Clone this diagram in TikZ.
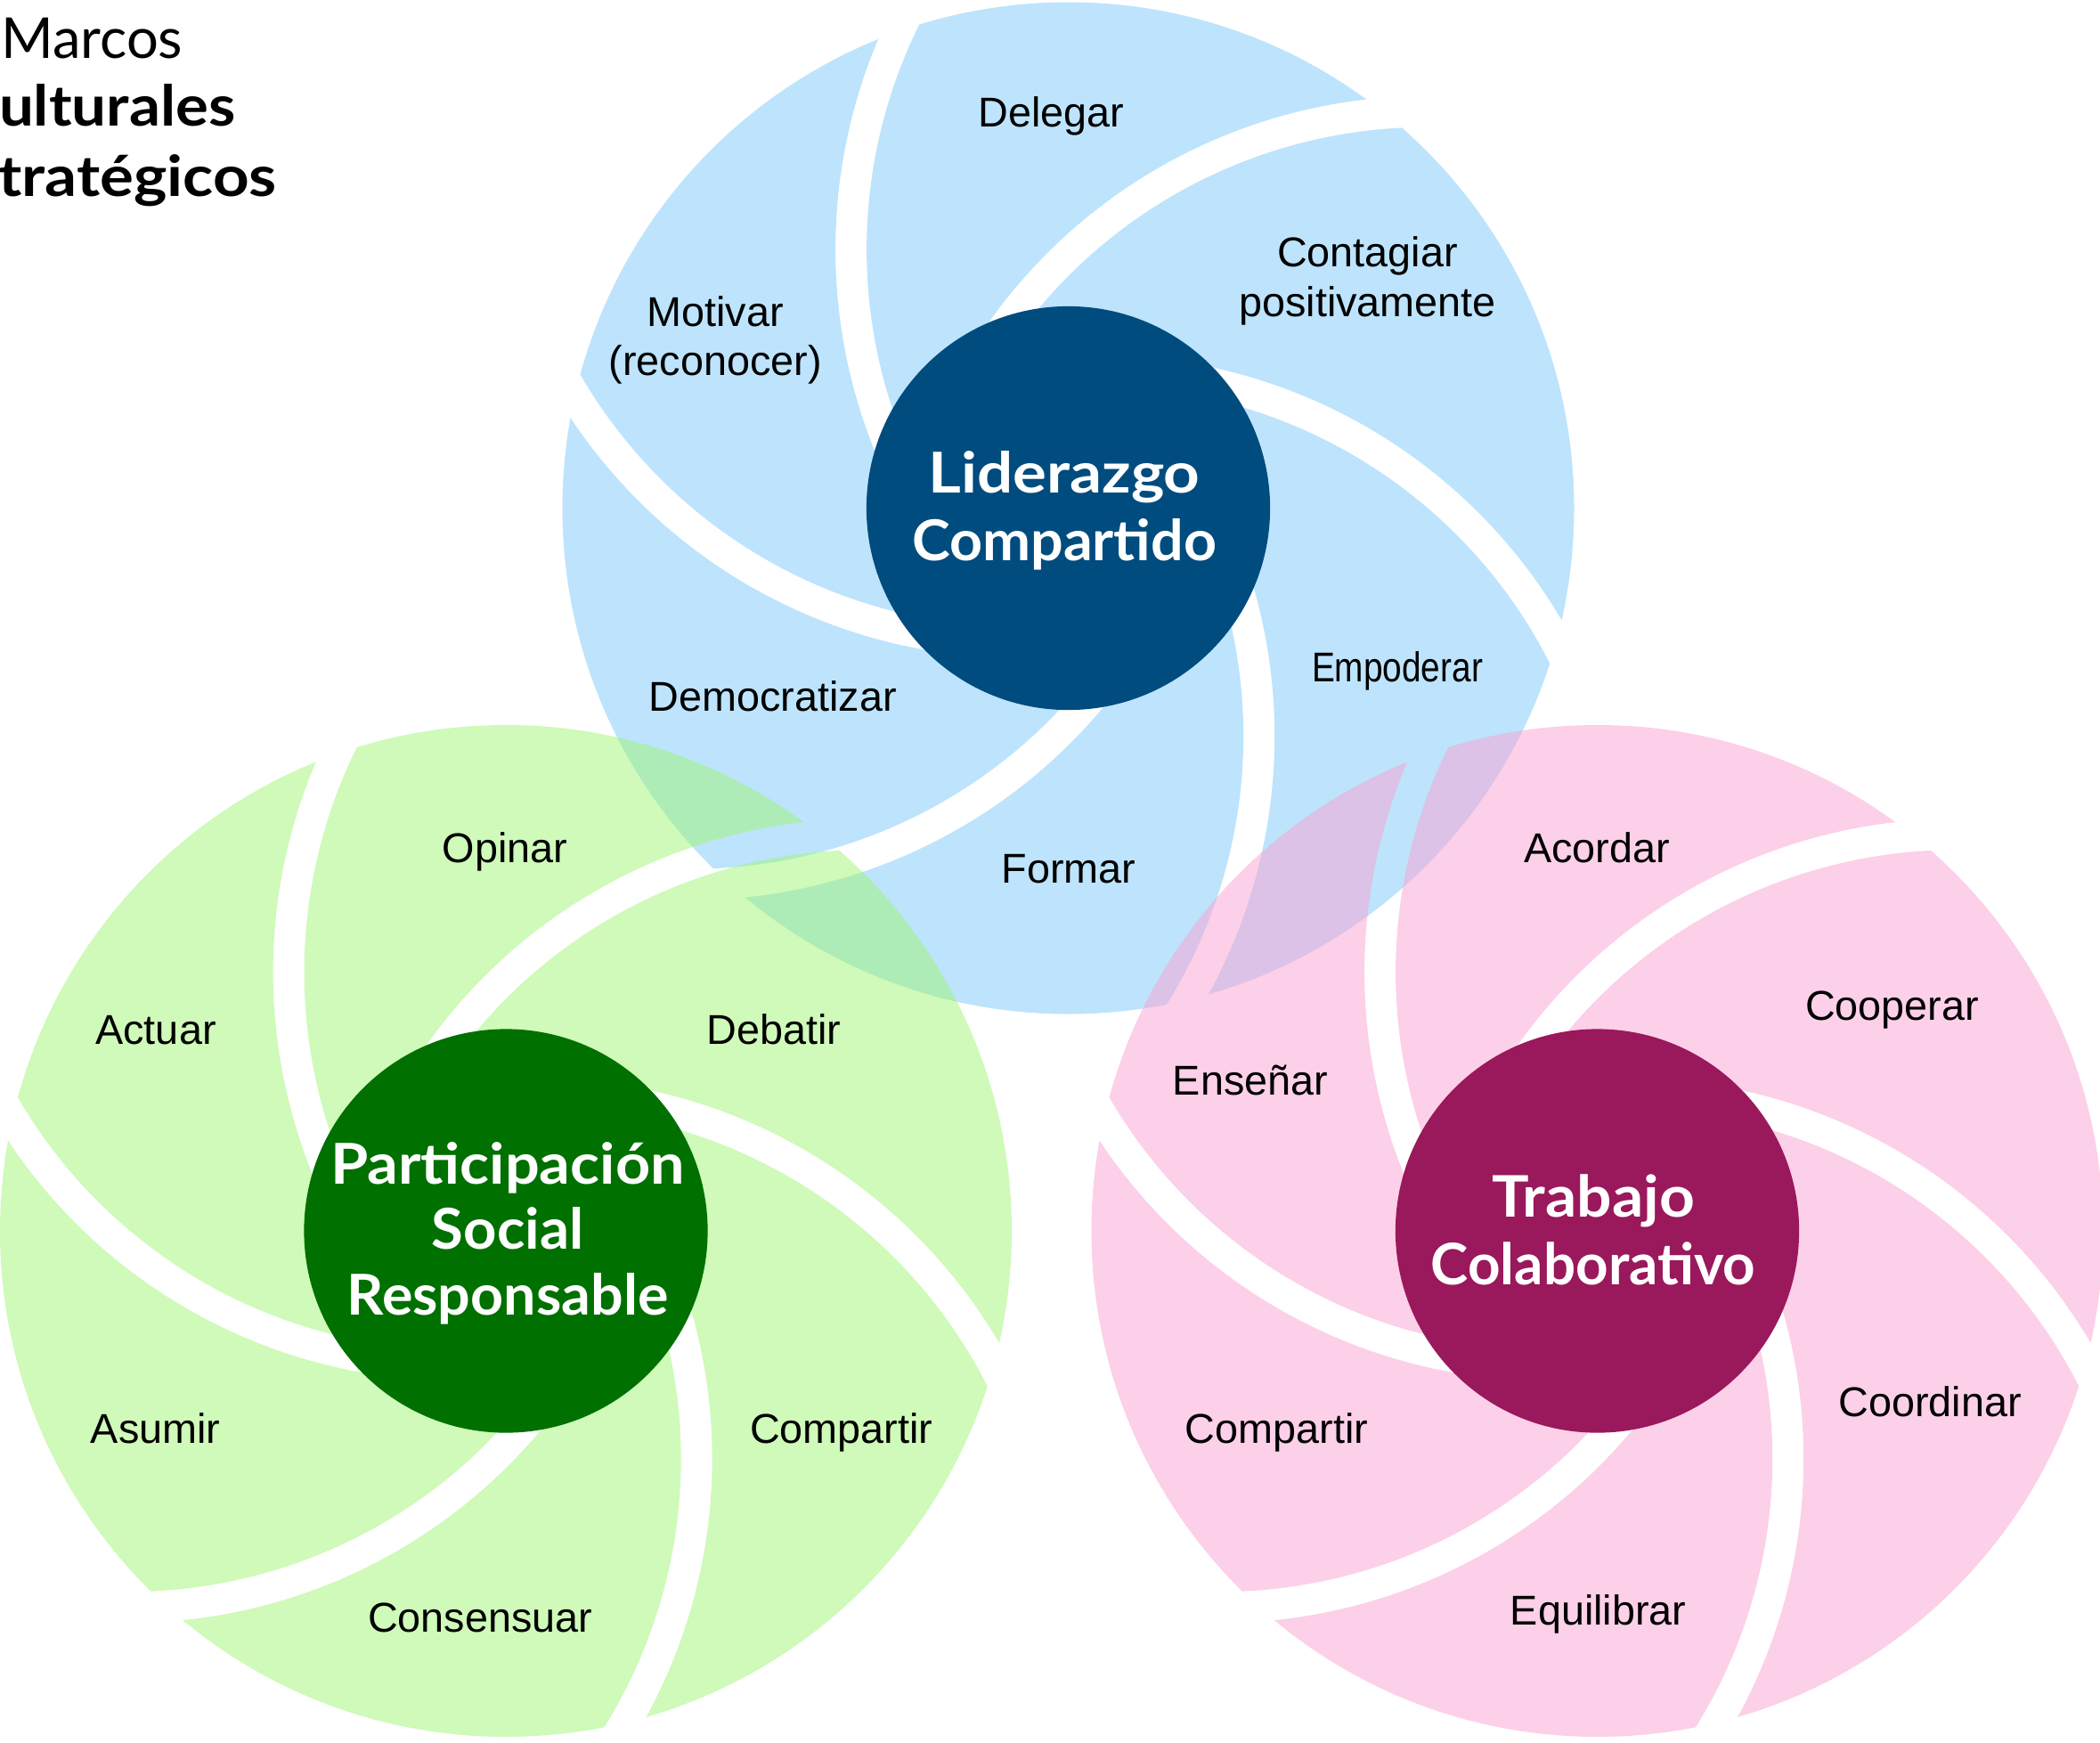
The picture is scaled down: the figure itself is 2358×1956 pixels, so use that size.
\documentclass[tikz,border=0pt]{standalone}
\usepackage{fontspec}
\usepackage{graphicx}
\setmainfont{Liberation Sans}
\newfontfamily\avenir{Lato}
\definecolor{lblue}{RGB}{123,201,249}
\definecolor{lgreen}{RGB}{159,245,115}
\definecolor{lpink}{RGB}{249,161,209}
\definecolor{dblue}{RGB}{0,76,126}
\definecolor{dgreen}{RGB}{0,112,0}
\definecolor{dpink}{RGB}{154,24,92}
\newcommand{\swirl}[3]{%
  \begin{scope}[even odd rule]
    \clip ({#1-700},{#2-700}) rectangle ({#1+700},{#2+700})
      foreach \ox/\oy/\a/\b in {342.1/290.5/147/208, 402.8/-140.7/86.7/150.3,
        33.85/-431.75/20.7/83.5, -371.8/-256.15/-38.3/22.2,
        -423.8/163.3/-93.8/-33.6, -56.25/435.25/203.9/265.9}
      { ({#1+\ox+603.5*cos(\a)},{#2+\oy+603.5*sin(\a)})
          arc[start angle=\a, end angle=\b, radius=603.5]
          -- ({#1+\ox+568.5*cos(\b)},{#2+\oy+568.5*sin(\b)})
          arc[start angle=\b, end angle=\a, radius=568.5] -- cycle };
    \fill[#3, fill opacity=0.5, nonzero rule] (#1,#2) circle (568);
  \end{scope}}
\newcommand{\hs}[2]{\scalebox{#1}[1]{#2}}
\begin{document}
\begin{tikzpicture}[x=0.01cm,y=0.01cm,
  petal/.style={font=\fontsize{13.3}{15.8}\selectfont, align=center, anchor=base, inner sep=0},
  hub/.style={circle, inner sep=0, minimum size=4.53cm},
  hubtext/.style={text=white, font=\avenir\bfseries\fontsize{18}{21.6}\selectfont, align=center, anchor=base, inner sep=0},
  ttl/.style={font=\avenir\fontsize{18}{22}\selectfont, anchor=base east, inner sep=0},
  ttlb/.style={ttl, font=\avenir\bfseries\fontsize{18}{22}\selectfont}]
\useasboundingbox (0,-1956) rectangle (2358,0);
\swirl{1199.5}{-570.5}{lblue}
\swirl{568}{-1382}{lgreen}
\swirl{1793.5}{-1382}{lpink}
\node[hub, fill=dblue] (hubT) at (1199.5,-570.5) {};
\node[hub, fill=dgreen] (hubG) at (568,-1382) {};
\node[hub, fill=dpink] (hubP) at (1793.5,-1382) {};
\node[hubtext] (tT) at (1195,-629) {\hs{1.12}{Liderazgo}\\\hs{1.02}{Compartido}};
\node[hubtext, font=\avenir\bfseries\fontsize{18}{21}\selectfont] (tG) at (570,-1476.8) {\hs{1.08}{Participación}\\\hs{1.03}{Social}\\\hs{1.02}{Responsable}};
\node[hubtext, font=\avenir\bfseries\fontsize{18.3}{21.8}\selectfont] (tP) at (1789,-1442.9) {\hs{1.08}{Trabajo}\\\hs{0.99}{Colaborativo}};
\node[ttl] (m1) at (206,-65) {Marcos};
\node[ttlb] (m2) at (265,-141.7) {\hs{1.09}{ulturales}};
\node[ttlb] (m3) at (311.7,-220) {\hs{1.12}{tratégicos}};
\node[petal] (p1) at (1180.3,-142) {Delegar};
\node[petal] (p2) at (1535.5,-355) {Contagiar\\positivamente};
\node[petal] (p3) at (803.3,-421.6) {Motivar\\(reconocer)};
\node[petal] (p4) at (867.8,-798.8) {Democratizar};
\node[petal] (p5) at (1199.9,-991) {Formar};
\node[petal] (p6) at (1569,-765.5) {\hs{0.83}{Empoderar}};
\node[petal] (g1) at (567,-968) {Opinar};
\node[petal] (g2) at (175,-1172.3) {Actuar};
\node[petal] (g3) at (868.8,-1172.3) {Debatir};
\node[petal] (g4) at (174.7,-1620.5) {Asumir};
\node[petal] (g5) at (944.8,-1620.5) {Compartir};
\node[petal] (g6) at (539.3,-1832) {Consensuar};
\node[petal] (k1) at (1792.9,-968) {Acordar};
\node[petal] (k2) at (2124.6,-1145) {Cooperar};
\node[petal] (k3) at (1404,-1229.8) {Enseñar};
\node[petal] (k4) at (1433.5,-1620.5) {Compartir};
\node[petal] (k5) at (2167,-1590.3) {Coordinar};
\node[petal] (k6) at (1794.7,-1824.8) {Equilibrar};
\end{tikzpicture}
\end{document}
